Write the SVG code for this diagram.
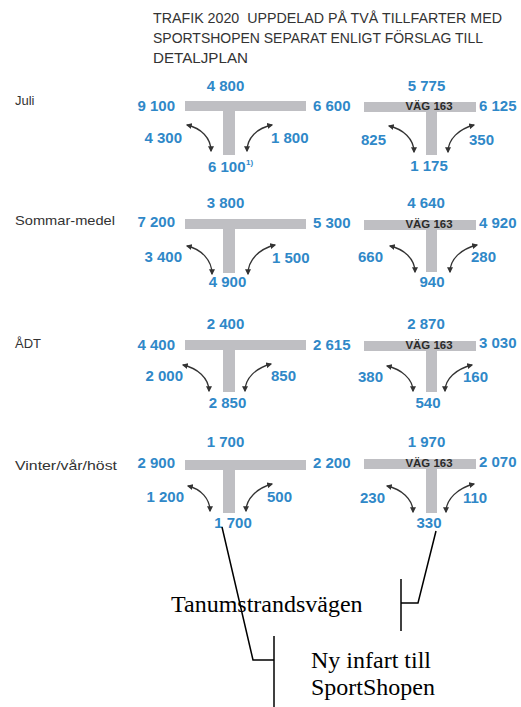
<svg xmlns="http://www.w3.org/2000/svg" width="521" height="707" viewBox="0 0 521 707">
<style>
.n{font-family:"Liberation Sans",Arial,sans-serif;font-weight:bold;font-size:15px;fill:#2f88c8}
.sup{font-family:"Liberation Sans",Arial,sans-serif;font-weight:bold;font-size:8px;fill:#2f88c8}
.lbl{font-family:"Liberation Sans",Arial,sans-serif;font-size:13px;fill:#333}
.ttl{font-family:"Liberation Sans",Arial,sans-serif;font-size:14px;fill:#333}
.road{fill:#bfbfc3}
.vag{font-family:"Liberation Sans",Arial,sans-serif;font-weight:bold;font-size:11px;fill:#2a2a2a}
.arr{fill:none;stroke:#333;stroke-width:1.3;marker-start:url(#ah);marker-end:url(#ah)}
.lead{fill:none;stroke:#000;stroke-width:1.5}
.cap{font-family:"Liberation Serif","Times New Roman",serif;font-size:24px;fill:#000}
</style>
<defs>
<marker id="ah" viewBox="0 0 10 10" refX="8" refY="5" markerWidth="6" markerHeight="6" orient="auto-start-reverse" markerUnits="userSpaceOnUse"><path d="M0,0 L10,5 L0,10 z" fill="#333"/></marker>
</defs>
<g id="title">
<text class="ttl" x="153" y="23" xml:space="preserve" textLength="349" lengthAdjust="spacingAndGlyphs">TRAFIK 2020  UPPDELAD PÅ TVÅ TILLFARTER MED</text>
<text class="ttl" x="153" y="43" textLength="330" lengthAdjust="spacingAndGlyphs">SPORTSHOPEN SEPARAT ENLIGT FÖRSLAG TILL</text>
<text class="ttl" x="153" y="63" textLength="95" lengthAdjust="spacingAndGlyphs">DETALJPLAN</text>
</g>
<g id="row-labels">
<text class="lbl" x="15" y="105">Juli</text>
<text class="lbl" x="15" y="225" textLength="100" lengthAdjust="spacingAndGlyphs">Sommar-medel</text>
<text class="lbl" x="15" y="348">ÅDT</text>
<text class="lbl" x="15" y="470" textLength="102" lengthAdjust="spacingAndGlyphs">Vinter/vår/höst</text>
</g>
<!-- Juli -->
<g id="juli-left">
<rect class="road" x="185" y="101" width="121" height="10"/>
<rect class="road" x="223" y="111" width="12" height="44"/>
<path class="arr" d="M187,125 C201,128 211,138 211,151"/>
<path class="arr" d="M247,151 C247,138 257,128 272,125"/>
<text class="n" x="225.5" y="91" text-anchor="middle">4 800</text>
<text class="n" x="175" y="111" text-anchor="end">9 100</text>
<text class="n" x="313" y="111">6 600</text>
<text class="n" x="182" y="143" text-anchor="end">4 300</text>
<text class="n" x="271" y="143">1 800</text>
<text class="n" x="208" y="172">6 100</text>
<text class="sup" x="246" y="165">1)</text>
</g>
<g id="juli-right">
<rect class="road" x="364" y="102" width="112" height="10"/>
<rect class="road" x="426" y="112" width="11" height="43"/>
<text class="vag" x="429" y="110" text-anchor="middle" textLength="47" lengthAdjust="spacingAndGlyphs">VÄG 163</text>
<path class="arr" d="M389,126 C403,129 414,139 414,152"/>
<path class="arr" d="M448,152 C448,139 459,129 474,125"/>
<text class="n" x="426.5" y="91" text-anchor="middle">5 775</text>
<text class="n" x="479" y="111">6 125</text>
<text class="n" x="386" y="145" text-anchor="end">825</text>
<text class="n" x="469" y="145">350</text>
<text class="n" x="429" y="171" text-anchor="middle">1 175</text>
</g>
<!-- Sommar -->
<g id="sommar-left">
<rect class="road" x="185" y="219" width="121" height="10"/>
<rect class="road" x="223" y="229" width="12" height="44"/>
<path class="arr" d="M187,246 C201,249 212,260 212,274"/>
<path class="arr" d="M248,274 C248,260 259,249 275,245"/>
<text class="n" x="225.5" y="208" text-anchor="middle">3 800</text>
<text class="n" x="175" y="227" text-anchor="end">7 200</text>
<text class="n" x="313" y="228">5 300</text>
<text class="n" x="182" y="262" text-anchor="end">3 400</text>
<text class="n" x="272" y="263">1 500</text>
<text class="n" x="227.5" y="287" text-anchor="middle">4 900</text>
</g>
<g id="sommar-right">
<rect class="road" x="364" y="220" width="112" height="10"/>
<rect class="road" x="426" y="230" width="11" height="42"/>
<text class="vag" x="429" y="228" text-anchor="middle" textLength="47" lengthAdjust="spacingAndGlyphs">VÄG 163</text>
<path class="arr" d="M390,246 C404,249 415,259 415,272"/>
<path class="arr" d="M450,272 C450,259 461,249 477,245"/>
<text class="n" x="426" y="208" text-anchor="middle">4 640</text>
<text class="n" x="479" y="228">4 920</text>
<text class="n" x="383" y="262" text-anchor="end">660</text>
<text class="n" x="471" y="262">280</text>
<text class="n" x="432" y="287" text-anchor="middle">940</text>
</g>
<!-- ADT -->
<g id="adt-left">
<rect class="road" x="185" y="340" width="121" height="10"/>
<rect class="road" x="223" y="350" width="12" height="42"/>
<path class="arr" d="M183,365 C197,368 209,378 209,391"/>
<path class="arr" d="M245,391 C245,378 256,368 271,364"/>
<text class="n" x="225.5" y="329" text-anchor="middle">2 400</text>
<text class="n" x="175" y="350" text-anchor="end">4 400</text>
<text class="n" x="313" y="350">2 615</text>
<text class="n" x="183" y="381" text-anchor="end">2 000</text>
<text class="n" x="271" y="381">850</text>
<text class="n" x="227.5" y="408" text-anchor="middle">2 850</text>
</g>
<g id="adt-right">
<rect class="road" x="364" y="341" width="112" height="10"/>
<rect class="road" x="426" y="351" width="11" height="41"/>
<text class="vag" x="429" y="349" text-anchor="middle" textLength="47" lengthAdjust="spacingAndGlyphs">VÄG 163</text>
<path class="arr" d="M387,366 C401,369 413,379 413,391"/>
<path class="arr" d="M445,391 C445,379 456,369 472,365"/>
<text class="n" x="426" y="329" text-anchor="middle">2 870</text>
<text class="n" x="479" y="348">3 030</text>
<text class="n" x="383" y="382" text-anchor="end">380</text>
<text class="n" x="463" y="382">160</text>
<text class="n" x="428" y="408" text-anchor="middle">540</text>
</g>
<!-- Vinter -->
<g id="vinter-left">
<rect class="road" x="185" y="460" width="121" height="10"/>
<rect class="road" x="223" y="470" width="12" height="43"/>
<path class="arr" d="M188,486 C201,489 210,499 210,511"/>
<path class="arr" d="M246,511 C246,499 257,488 272,484"/>
<text class="n" x="225.5" y="447" text-anchor="middle">1 700</text>
<text class="n" x="175" y="468" text-anchor="end">2 900</text>
<text class="n" x="313" y="468">2 200</text>
<text class="n" x="184" y="502" text-anchor="end">1 200</text>
<text class="n" x="267" y="502">500</text>
<text class="n" x="233" y="528" text-anchor="middle">1 700</text>
</g>
<g id="vinter-right">
<rect class="road" x="364" y="459" width="112" height="10"/>
<rect class="road" x="426" y="469" width="11" height="44"/>
<text class="vag" x="429" y="467" text-anchor="middle" textLength="47" lengthAdjust="spacingAndGlyphs">VÄG 163</text>
<path class="arr" d="M387,486 C401,489 413,499 413,512"/>
<path class="arr" d="M446,512 C446,499 458,488 474,484"/>
<text class="n" x="426.5" y="447" text-anchor="middle">1 970</text>
<text class="n" x="479" y="467">2 070</text>
<text class="n" x="385" y="503" text-anchor="end">230</text>
<text class="n" x="463" y="503">110</text>
<text class="n" x="429" y="528" text-anchor="middle">330</text>
</g>
<g id="connectors">
<polyline class="lead" points="222,527 253,660 274,660"/>
<line class="lead" x1="274" y1="636" x2="274" y2="707"/>
<polyline class="lead" points="436,531 418,603 401,603"/>
<line class="lead" x1="401" y1="579" x2="401" y2="631"/>
</g>
<g id="captions">
<text class="cap" x="171" y="612">Tanumstrandsvägen</text>
<text class="cap" x="311" y="668">Ny infart till</text>
<text class="cap" x="311" y="695">SportShopen</text>
</g>
</svg>
